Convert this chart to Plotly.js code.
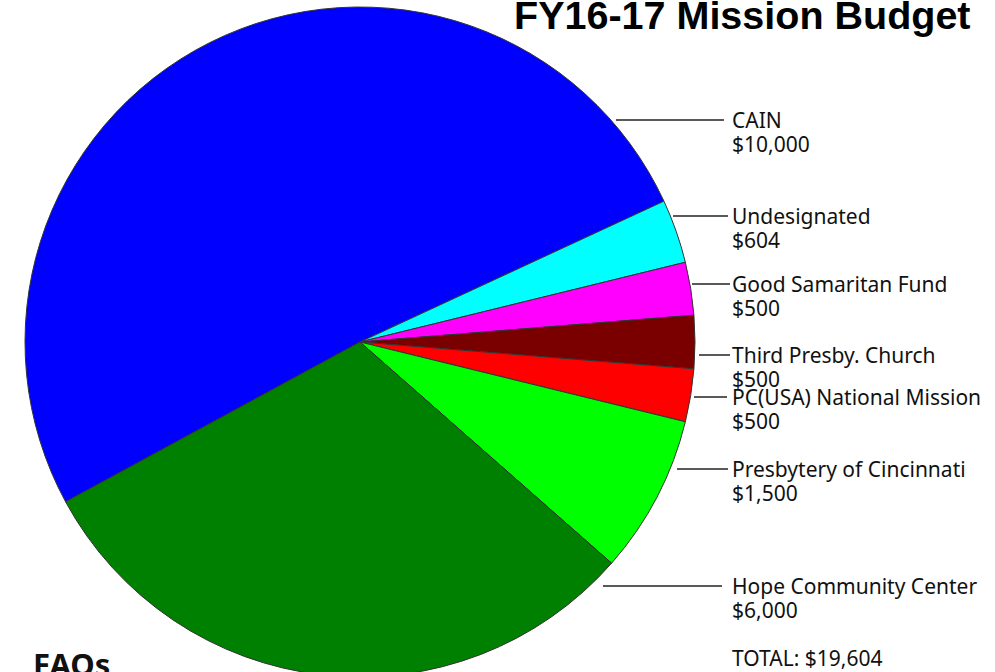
<!DOCTYPE html>
<html><head><meta charset="utf-8">
<script src="https://cdn.plot.ly/plotly-3.0.1.min.js"></script>
<style>
html,body{margin:0;padding:0;background:#fff;overflow:hidden}
#wrap{width:995px;height:672px;overflow:hidden;position:relative}
#chart{width:995px;height:690px}
</style></head>
<body><div id="wrap"><div id="chart"></div></div>
<script>
// ---- data ----
const categories = ["CAIN","Undesignated","Good Samaritan Fund","Third Presby. Church","PC(USA) National Mission","Presbytery of Cincinnati","Hope Community Center"];
const amounts = [10000, 604, 500, 500, 500, 1500, 6000];
const sliceColors = ["#0000ff","#00ffff","#ff00ff","#7a0000","#ff0000","#00ff00","#008000"];
const chartTitle = "FY16-17 Mission Budget";
const footerText = "FAQs";

// ---- layout helpers (pixel positions of the label column) ----
const W = 995, H = 690;
const labelY  = [120, 216, 284, 355, 397, 469, 586];
const lineX0  = [616, 673, 692, 699, 694, 677, 603];
const lineX1  = [724, 728, 730, 730, 727, 728, 722];
const textX = 731, valueOffset = 24;
const px = x => x / W, py = y => 1 - y / H;
const money = v => "$" + v.toLocaleString("en-US");
const total = amounts.reduce((a, b) => a + b, 0);

const labelFont = {family: "Noto Sans, Open Sans, sans-serif", size: 21, color: "#111"};

const annotations = [];
const shapes = [];
categories.forEach((c, i) => {
  annotations.push({xref:"paper", yref:"paper", x:px(textX), y:py(labelY[i]), xanchor:"left", yanchor:"middle",
    text:c, showarrow:false, borderpad:0, font:labelFont});
  annotations.push({xref:"paper", yref:"paper", x:px(textX), y:py(labelY[i] + valueOffset), xanchor:"left", yanchor:"middle",
    text:money(amounts[i]), showarrow:false, borderpad:0, font:labelFont});
  shapes.push({type:"line", xref:"paper", yref:"paper", x0:px(lineX0[i]), x1:px(lineX1[i]),
    y0:py(labelY[i]), y1:py(labelY[i]), line:{color:"#222", width:1.5}});
});
annotations.push({xref:"paper", yref:"paper", x:px(textX), y:py(658), xanchor:"left", yanchor:"middle",
  text:"TOTAL: " + money(total), showarrow:false, borderpad:0, font:labelFont});
annotations.push({xref:"paper", yref:"paper", x:px(32), y:py(664), xanchor:"left", yanchor:"middle",
  text:"<b>" + footerText + "</b>", showarrow:false, borderpad:0, font:{family:"Noto Sans, Open Sans, sans-serif", size:31, color:"#111"}});

const trace = {
  type: "pie",
  labels: categories,
  values: amounts,
  sort: false,
  direction: "clockwise",
  rotation: 241.5,
  marker: {colors: sliceColors, line: {color: "#333", width: 1}},
  textinfo: "none",
  hoverinfo: "label+value",
  showlegend: false,
  domain: {x: [px(25), px(695)], y: [py(677), py(7)]}
};

const layout = {
  width: W, height: H,
  margin: {l:0, r:0, t:0, b:0},
  paper_bgcolor: "#fff",
  showlegend: false,
  title: {text: "<b>" + chartTitle + "</b>", x: px(514), xanchor: "left", xref: "paper",
          y: py(15), yref: "container", yanchor: "middle",
          font: {family: "Liberation Sans, Arial, sans-serif", size: 39.5, color: "#000"}},
  annotations: annotations,
  shapes: shapes
};

Plotly.newPlot("chart", [trace], layout, {displayModeBar: false});
</script>
</body></html>
